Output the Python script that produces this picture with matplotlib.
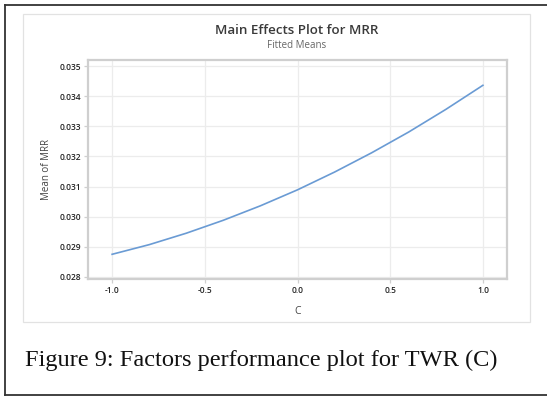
import matplotlib
matplotlib.use("Agg")
import matplotlib.pyplot as plt
from matplotlib.patches import Rectangle
import numpy as np

# fitted means of MRR across coded levels of factor C
c_levels = [-1.0, -0.8, -0.6, -0.4, -0.2, 0.0, 0.2, 0.4, 0.6, 0.8, 1.0]
mrr_mean = [0.02875, 0.02907, 0.02945, 0.02988, 0.03036, 0.03089,
            0.03148, 0.03212, 0.03281, 0.03356, 0.03436]

x_ticks = [-1.0, -0.5, 0.0, 0.5, 1.0]
y_ticks = [0.028, 0.029, 0.030, 0.031, 0.032, 0.033, 0.034, 0.035]

W, H = 547, 397
fig = plt.figure(figsize=(W / 100, H / 100), dpi=100)
fig.patch.set_facecolor("white")

# page border (left, top, bottom) and the chart panel
fig.add_artist(plt.Line2D([5 / W, 5 / W], [2 / H, 392 / H], color="#333333", lw=1.3))
fig.add_artist(plt.Line2D([5 / W, 1.0], [392 / H, 392 / H], color="#333333", lw=1.3))
fig.add_artist(plt.Line2D([5 / W, 1.0], [2 / H, 2 / H], color="#333333", lw=1.3))
fig.add_artist(Rectangle((23 / W, (H - 322) / H), (530 - 23) / W, (322 - 14) / H,
                         fill=False, ec="#e2e2e2", lw=0.9))

ax = fig.add_axes([88 / W, (H - 279) / H, (507 - 88) / W, (279 - 60) / H])
ax.plot(c_levels, mrr_mean, color="#6a9bd4", lw=1.2)

ax.set_xlim(-1.13, 1.13)
ax.set_ylim(0.02793, 0.0352)
ax.set_xticks(x_ticks)
ax.set_yticks(y_ticks)
ax.set_xticklabels([f"{v:.1f}" for v in x_ticks])
ax.set_yticklabels([f"{v:.3f}" for v in y_ticks])
ax.grid(True, color="#ececec", lw=0.9)
ax.set_axisbelow(True)
for s in ax.spines.values():
    s.set_color("#cfcfcf")
    s.set_linewidth(1.6)
ax.tick_params(axis="both", labelsize=6, colors="#cfcfcf", labelcolor="#222222",
               length=3, width=0.9, pad=2)
for lab in ax.get_xticklabels() + ax.get_yticklabels():
    lab.set_fontfamily("Open Sans")
    lab.set_fontweight("semibold")

ax.set_xlabel("C", fontsize=7.5, color="#444444", family="Open Sans", labelpad=8)
ax.set_ylabel("Mean of MRR", fontsize=7, color="#444444", family="Open Sans", labelpad=5)

fig.text(297 / W, 1 - 31 / H, "Main Effects Plot for MRR", ha="center", va="center",
         fontsize=9.6, fontweight="semibold", color="#3a3a3a", family="Open Sans")
fig.text(297 / W, 1 - 45 / H, "Fitted Means", ha="center", va="center",
         fontsize=7, color="#666666", family="Open Sans")

fig.text(25 / W, 1 - 360 / H, "Figure 9: Factors performance plot for TWR (C)",
         ha="left", va="center", fontsize=17.6, color="#111111", family="Liberation Serif")

fig.savefig("out.png", dpi=100)
